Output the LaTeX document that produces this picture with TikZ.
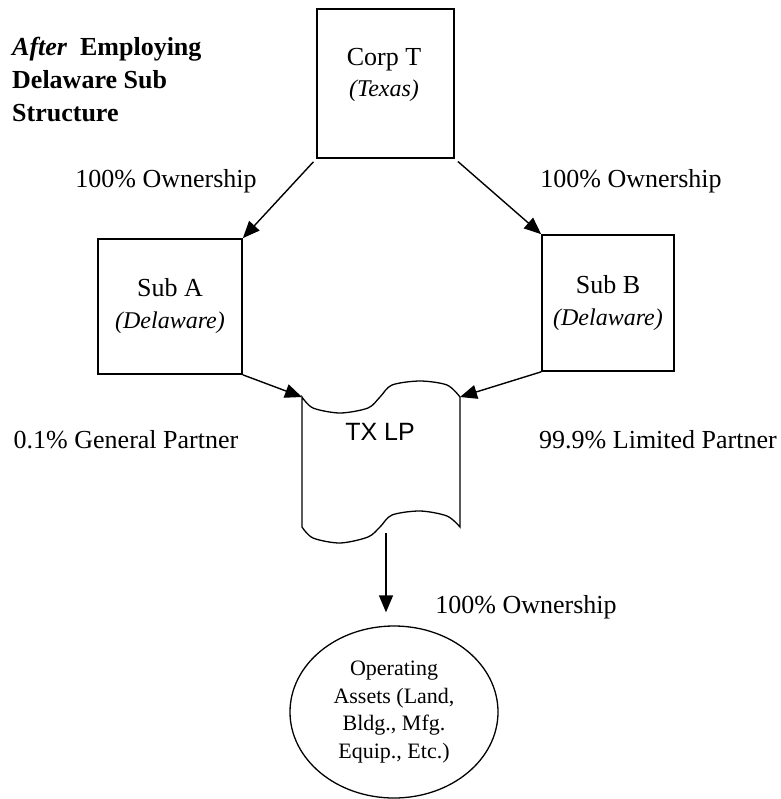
\documentclass[tikz,border=0pt]{standalone}
\usepackage{fontspec}
\setmainfont{Liberation Serif}
\newfontfamily\arialfont{Liberation Sans}
\usetikzlibrary{arrows.meta,shapes.geometric}

\begin{document}
\begin{tikzpicture}[x=1pt,y=-1pt,
        entity/.style={draw, line width=1.7pt, inner sep=0pt, align=center},
        owns/.style={-{Triangle[length=17pt,width=14pt]}, line width=1.4pt},
        pct/.style={font=\fontsize{26}{30}\selectfont},
        tape/.style={line width=1.3pt}]
        \useasboundingbox (0,0) rectangle (780,799);

        \node[anchor=north west, align=left, inner sep=0pt, font=\fontsize{26}{33}\selectfont\bfseries] (title) at (12,37) {{\itshape After}\ \ Employing\\Delaware Sub\\Structure};

        \node[entity, minimum width=137pt, minimum height=149pt] (corp) at (385.5,83.5) {};
        \node[align=center, font=\fontsize{26}{31}\selectfont] (corpname) at (384,75) {Corp T\\{\fontsize{24}{31}\selectfont\itshape (Texas)}};

        \node[entity, minimum width=144pt, minimum height=135pt, font=\fontsize{26}{32}\selectfont] (sa) at (170,306.5) {Sub A\\{\fontsize{24}{32}\selectfont\itshape (Delaware)}};
        \node[entity, minimum width=132pt, minimum height=136pt, font=\fontsize{26}{32}\selectfont] (sb) at (608,303) {Sub B\\{\fontsize{24}{32}\selectfont\itshape (Delaware)}};

        \coordinate (lp-nw) at (302,397);
        \coordinate (lp-ne) at (460,397);
        \coordinate (lp-s) at (386,533);
        \draw[tape] plot[smooth, tension=0.5] coordinates {(302,397) (313,408) (340,413) (368,408) (380,397) (392,385) (420,381) (447,385) (460,397)}
            -- plot[smooth, tension=0.5] coordinates {(460,527) (447,516) (420,511) (392,515) (380,527) (368,537) (340,543) (313,538) (302,527)} -- cycle;
        \node[font=\arialfont\fontsize{25}{30}\selectfont] (lp) at (380,432) {TX LP};

        \node[draw, ellipse, line width=1.3pt, inner sep=0pt, minimum width=208pt, minimum height=172pt, align=center, font=\fontsize{22}{27.5}\selectfont] (assets) at (394,712) {Operating\\Assets (Land,\\Bldg., Mfg.\\Equip., Etc.)};

        \draw[owns, shorten <=4pt] (corp.south west) -- (sa.north east);
        \draw[owns, shorten <=4pt] (corp.south east) -- (sb.north west);
        \draw[owns] (sa.south east) -- (lp-nw);
        \draw[owns] (sb.south west) -- (lp-ne);
        \draw[owns, shorten >=13pt] (lp-s) -- (lp-s |- assets.north);

        \node[pct] (own-a) at (166,181) {100\% Ownership};
        \node[pct] (own-b) at (631,181) {100\% Ownership};
        \node[pct] (gp) at (126,440) {0.1\% General Partner};
        \node[pct] (ltd) at (658,440) {99.9\% Limited Partner};
        \node[pct] (own-c) at (526,607) {100\% Ownership};
\end{tikzpicture}
\end{document}
